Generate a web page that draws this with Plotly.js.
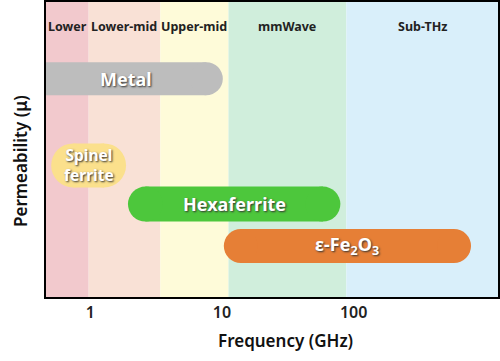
<!DOCTYPE html>
<html>
<head>
<meta charset="utf-8">
<script src="https://cdn.plot.ly/plotly-3.0.1.min.js"></script>
<style>html,body{margin:0;padding:0;background:#fff;}#chart{width:500px;height:361px;}</style>
</head>
<body>
<div id="chart"></div>
<script>
// Frequency bands (GHz edges)
const bandNames = ["Lower", "Lower-mid", "Upper-mid", "mmWave", "Sub-THz"];
const bandEdges = [0.46, 0.97, 3.4, 11.2, 88, 1250];
const bandColors = ["#F2C9CD", "#F9E1D6", "#FEFBD9", "#D0EEDC", "#D9EFFA"];

// Materials: frequency span (GHz, end-cap centres), permeability level (relative)
const materials = ["Metal", "Spinel<br>ferrite", "Hexaferrite", "ε-Fe<sub>2</sub>O<sub>3</sub>"];
const matStart = [0.3, 0.74, 2.62, 13.9];
const matEnd = [7.6, 1.27, 58.4, 579];
const matLevel = [7.4, 4.46, 3.15, 1.73];
const matColors = ["#BDBDBD", "#FBE08C", "#4DC73C", "#E67F36"];
const matThick = [33, 44, 35, 34];
const matFont = [18, 15.5, 18, 18];

// Axis ticks
const tickVals = [1, 10, 100];
const tickText = ["1", "10", "100"];

const FONT = "Noto Sans, Open Sans, sans-serif";
const xmin = bandEdges[0], xmax = bandEdges[bandEdges.length - 1];

const traces = materials.map((m, i) => ({
  type: "scatter",
  mode: "lines+markers",
  x: [matStart[i], matEnd[i]],
  y: [matLevel[i], matLevel[i]],
  line: {color: matColors[i], width: matThick[i]},
  marker: {color: matColors[i], size: matThick[i], line: {width: 0}},
  hoverinfo: "skip",
  showlegend: false
}));

const shapes = bandNames.map((b, i) => ({
  type: "rect", xref: "x", yref: "paper",
  x0: bandEdges[i], x1: bandEdges[i + 1], y0: 0, y1: 1,
  fillcolor: bandColors[i], line: {width: 0}, layer: "below"
}));

const annotations = [];
bandNames.forEach((b, i) => {
  annotations.push({
    x: Math.log10(Math.sqrt(bandEdges[i] * bandEdges[i + 1])), y: 0.953,
    xref: "x", yref: "paper", text: b, showarrow: false,
    font: {family: FONT, size: 12.5, color: "#222", weight: 700}
  });
});
materials.forEach((m, i) => {
  const s = Math.max(matStart[i], xmin);
  annotations.push({
    x: Math.log10(Math.sqrt(s * matEnd[i])), y: matLevel[i],
    xref: "x", yref: "y", text: m, showarrow: false,
    font: {family: FONT, size: matFont[i], color: "#fff", weight: 700,
           shadow: "1px 1px 2px #333"},
    align: "center"
  });
});
annotations.push({
  x: 0.53, y: -0.146, xref: "paper", yref: "paper",
  text: "Frequency (GHz)", showarrow: false, yanchor: "middle",
  font: {family: FONT, size: 17, color: "#111", weight: 600}
});
annotations.push({
  x: -0.056, y: 0.46, xref: "paper", yref: "paper", textangle: -90,
  text: "Permeability (μ)", showarrow: false, xanchor: "center", yanchor: "middle",
  font: {family: FONT, size: 17, color: "#111", weight: 600}
});

const layout = {
  width: 500, height: 361,
  margin: {l: 46, r: 2, t: 2, b: 64},
  paper_bgcolor: "#fff", plot_bgcolor: "#fff",
  xaxis: {
    type: "log", range: [Math.log10(xmin), Math.log10(xmax)],
    tickvals: tickVals, ticktext: tickText, ticks: "",
    showgrid: false, zeroline: false,
    showline: true, mirror: true, linecolor: "#000", linewidth: 2,
    tickfont: {family: FONT, size: 16, color: "#222", weight: 600},
    fixedrange: true
  },
  yaxis: {
    range: [0, 10], showticklabels: false, ticks: "",
    showgrid: false, zeroline: false,
    showline: true, mirror: true, linecolor: "#000", linewidth: 2,
    fixedrange: true
  },
  shapes: shapes,
  annotations: annotations
};

Plotly.newPlot("chart", traces, layout, {displayModeBar: false, staticPlot: true});
</script>
</body>
</html>
